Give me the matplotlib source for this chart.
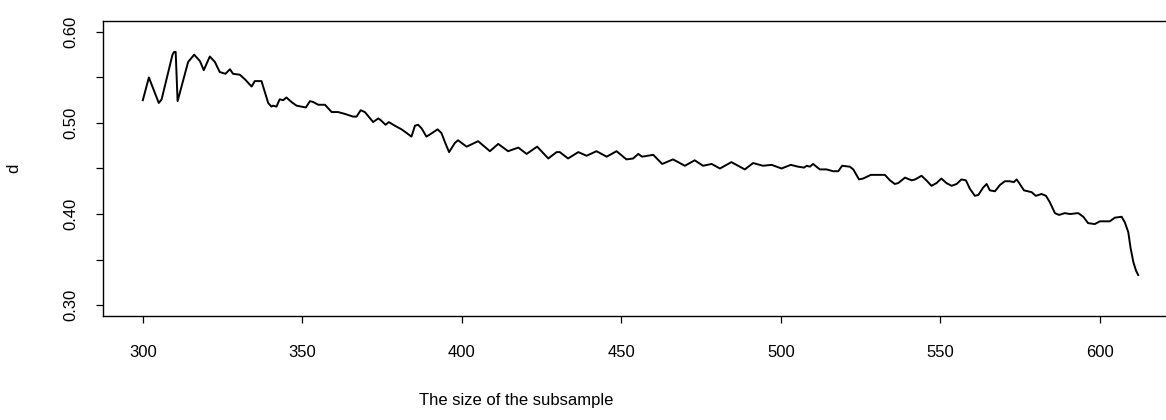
import matplotlib
matplotlib.use("Agg")
import matplotlib.pyplot as plt

subsample_size = [
    300.0, 301.9, 305.0, 305.9, 309.3, 309.8, 310.3, 310.9, 314.2, 316.1, 317.9, 319.1,
    321.0, 322.6, 324.1, 325.9, 327.3, 328.3, 330.4, 332.0, 334.1, 335.1,
    337.2, 339.3, 340.3, 340.8, 341.9, 342.9, 344.0, 345.0, 346.6, 348.2,
    349.7, 351.1, 352.4, 353.4, 355.0, 357.1, 359.2, 361.2, 363.3, 365.9,
    367.0, 368.3, 369.6, 372.2, 373.8, 374.6, 376.1, 377.1, 379.0, 381.1,
    382.7, 384.2, 385.3, 386.3, 387.4, 388.9, 390.7, 392.4, 393.6, 394.7,
    396.0, 397.8, 398.8, 401.5, 405.1, 408.8, 411.4, 414.5, 417.7, 420.3,
    423.6, 427.1, 429.7, 430.7, 433.3, 436.5, 439.1, 442.2, 445.4, 448.5,
    451.6, 453.7, 455.3, 456.5, 460.0, 462.8, 466.2, 469.9, 473.0, 475.6,
    478.3, 480.9, 484.5, 488.7, 491.3, 494.4, 497.1, 500.2, 503.1, 505.4,
    507.3, 508.1, 509.1, 510.1, 512.2, 514.3, 516.4, 518.0, 519.2, 521.6,
    522.7, 524.5, 525.8, 528.2, 530.0, 532.6, 534.2, 535.7, 536.8, 538.9,
    541.0, 542.1, 544.1, 545.6, 547.2, 548.8, 550.3, 551.9, 553.5, 555.1,
    556.6, 558.0, 559.2, 560.8, 561.9, 563.4, 564.5, 565.5, 567.1, 568.7,
    570.2, 571.8, 573.0, 573.9, 574.7, 576.2, 578.6, 579.9, 581.7, 583.1,
    584.3, 585.9, 587.2, 589.0, 590.6, 593.2, 594.8, 596.3, 598.4, 600.0,
    603.1, 604.7, 606.8, 607.8, 608.9, 609.6, 610.5, 611.3, 612.0,
]
d_values = [
    0.525, 0.550, 0.522, 0.526, 0.575, 0.578, 0.578, 0.524, 0.567, 0.575, 0.568, 0.558,
    0.573, 0.567, 0.556, 0.554, 0.559, 0.554, 0.553, 0.548, 0.540, 0.546,
    0.546, 0.522, 0.518, 0.519, 0.518, 0.526, 0.525, 0.528, 0.523, 0.519,
    0.518, 0.517, 0.524, 0.523, 0.520, 0.520, 0.512, 0.512, 0.510, 0.507,
    0.507, 0.514, 0.512, 0.501, 0.505, 0.503, 0.498, 0.501, 0.497, 0.493,
    0.489, 0.485, 0.497, 0.498, 0.494, 0.485, 0.489, 0.493, 0.489, 0.479,
    0.468, 0.478, 0.481, 0.474, 0.480, 0.469, 0.477, 0.469, 0.473, 0.466,
    0.474, 0.461, 0.468, 0.468, 0.461, 0.468, 0.464, 0.469, 0.463, 0.469,
    0.460, 0.461, 0.466, 0.463, 0.465, 0.455, 0.460, 0.453, 0.459, 0.453,
    0.455, 0.450, 0.457, 0.449, 0.456, 0.453, 0.454, 0.450, 0.454, 0.452,
    0.451, 0.453, 0.452, 0.455, 0.449, 0.449, 0.447, 0.447, 0.453, 0.452,
    0.449, 0.438, 0.439, 0.443, 0.443, 0.443, 0.437, 0.433, 0.434, 0.440,
    0.437, 0.438, 0.442, 0.437, 0.431, 0.434, 0.439, 0.434, 0.431, 0.433,
    0.438, 0.437, 0.428, 0.420, 0.421, 0.429, 0.433, 0.426, 0.425, 0.432,
    0.436, 0.436, 0.435, 0.438, 0.434, 0.426, 0.424, 0.420, 0.422, 0.420,
    0.413, 0.401, 0.399, 0.401, 0.400, 0.401, 0.397, 0.390, 0.389, 0.392,
    0.392, 0.396, 0.397, 0.391, 0.380, 0.363, 0.347, 0.338, 0.333,
]
x_ticks = [300, 350, 400, 450, 500, 550, 600]
y_ticks = [0.30, 0.35, 0.40, 0.45, 0.50, 0.55, 0.60]
y_tick_labels = ["0.30", "", "0.40", "", "0.50", "", "0.60"]

plt.rcParams['font.family'] = ['Liberation Sans', 'DejaVu Sans']

W, H = 1166, 420
fig = plt.figure(figsize=(W / 100, H / 100), dpi=100)
left, right, top, bottom = 103, 1178, 21, 316
ax = fig.add_axes([left / W, (H - bottom) / H, (right - left) / W, (bottom - top) / H])

ax.plot(subsample_size, d_values, color='black', linewidth=1.4)
ax.set_xlim(287.52, 624.48)
ax.set_ylim(0.288, 0.612)

ax.set_xticks(x_ticks)
ax.set_yticks(y_ticks)
ax.set_yticklabels(y_tick_labels, rotation=90, va='center')
ax.tick_params(axis='both', direction='out', length=5, width=0.9, labelsize=12, colors='black')
ax.tick_params(axis='x', pad=16)
ax.tick_params(axis='y', pad=13)
for s in ax.spines.values():
    s.set_linewidth(1.0)

fig.text(14 / W, 1 - 168 / H, "d", rotation=90, ha='center', va='center', fontsize=12)
fig.text(516 / W, 1 - 400 / H, "The size of the subsample", ha='center', va='center', fontsize=12)

fig.savefig("out.png", dpi=100)
